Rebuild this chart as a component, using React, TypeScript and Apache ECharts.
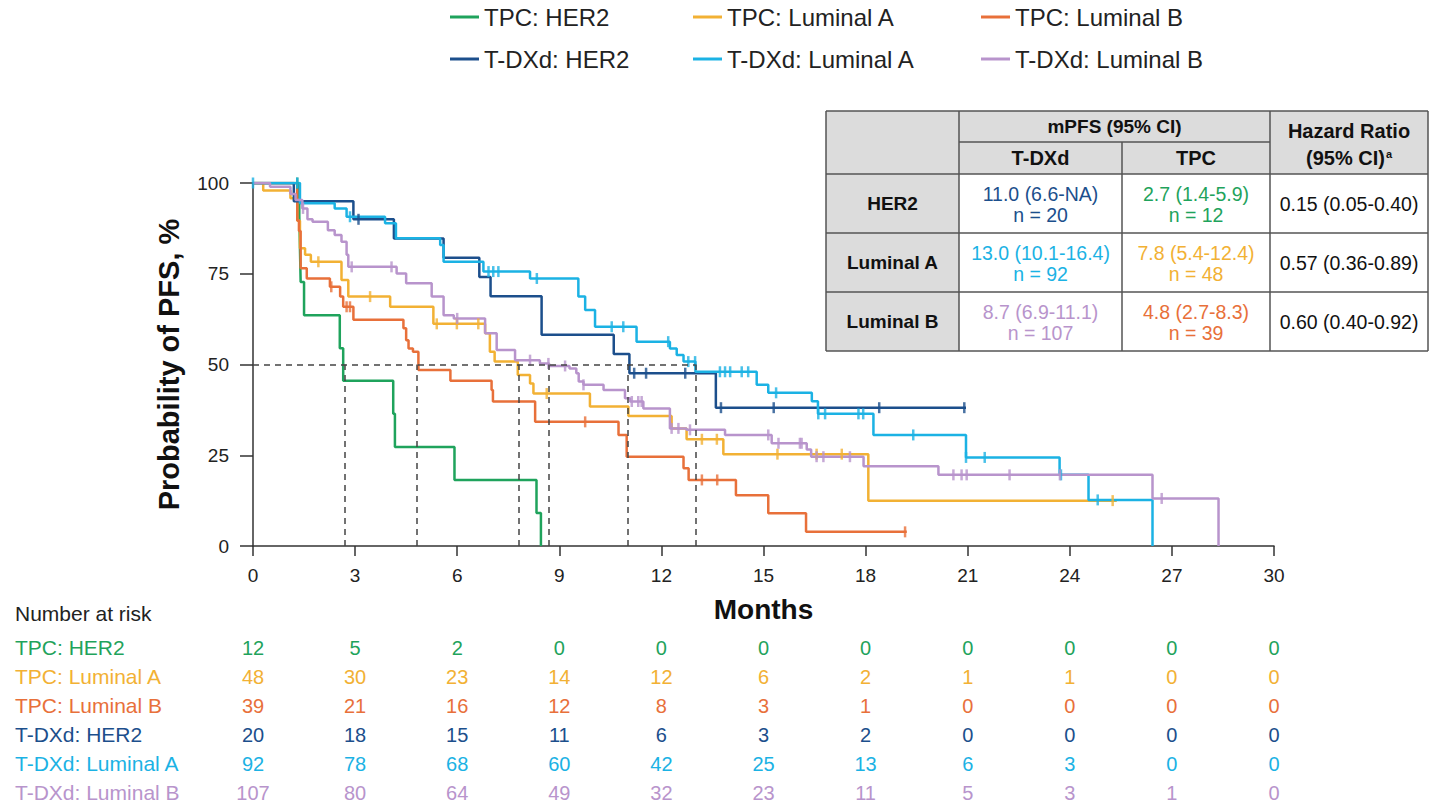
import React, { useEffect, useRef } from "react";
import * as echarts from "echarts";

const FONT = "'Liberation Sans', Arial, Helvetica, sans-serif";

const seriesNames = ["TPC: HER2", "TPC: Luminal A", "TPC: Luminal B", "T-DXd: HER2", "T-DXd: Luminal A", "T-DXd: Luminal B"];
const seriesColors = ["#1fa35c", "#f2b134", "#e8703a", "#1c4f8c", "#1bb2e4", "#b894cc"];

// Kaplan-Meier step points (months, % PFS) and censor times
const tpcHer2Times = [0, 1.36, 1.38, 1.4, 1.5, 2.55, 2.65, 4.12, 4.17, 5.92, 8.33, 8.46];
const tpcHer2Surv = [100, 90.9, 81.8, 72.7, 63.6, 54.5, 45.5, 36.4, 27.3, 18.2, 9.1, 0];
const tpcHer2Censor = [1.3];

const tpcLumATimes = [0, 0.3, 1.1, 1.3, 1.38, 1.53, 1.7, 2.6, 2.8, 4.03, 5.3, 6.82, 6.96, 7.1, 7.78, 8.14, 8.24, 9.9, 11.03, 12.3, 12.74, 13.82, 18.08, 25.38];
const tpcLumASurv = [100, 97.9, 95.8, 89.6, 82, 80.2, 78.3, 73.3, 68.7, 65.9, 61.2, 58.6, 53.5, 50.8, 47.1, 44.8, 42, 38.4, 35.8, 32.4, 29.4, 25.3, 12.5, 12.5];
const tpcLumACensor = [1.92, 3.44, 5.4, 5.99, 6.62, 8.63, 13.19, 13.63, 15.41, 16.56, 17.3, 25.26];

const tpcLumBTimes = [0, 1.3, 1.35, 1.4, 1.58, 2.26, 2.56, 2.65, 2.95, 4.42, 4.5, 4.57, 4.7, 4.86, 5.8, 7.01, 7.05, 8.29, 10.74, 10.98, 12.65, 12.8, 14.19, 15.14, 16.25, 19.21];
const tpcLumBSurv = [100, 89.7, 86.8, 76.5, 73.7, 71.4, 68.7, 65.9, 62.3, 60, 56.7, 54.4, 53.5, 48.5, 45.5, 43, 39.8, 34.2, 30.6, 24.6, 21.4, 18.2, 14, 9, 3.9, 3.9];
const tpcLumBCensor = [2.3, 2.75, 2.85, 9.76, 13.19, 13.64, 19.16];

const tdxdHer2Times = [0, 1.2, 2.95, 4.14, 5.6, 6.65, 6.98, 8.48, 10.6, 11.06, 13.6, 20.95];
const tdxdHer2Surv = [100, 95, 90, 84.7, 79.4, 74.1, 68.8, 58.2, 52.9, 47.6, 38.1, 38.1];
const tdxdHer2Censor = [3.1, 11.2, 11.55, 12.7, 13.75, 15.3, 18.4, 20.9];

const tdxdLumATimes = [0, 1.38, 2.4, 2.75, 3.88, 4.2, 5.5, 5.6, 6.77, 8.14, 9.56, 9.76, 10.05, 11.27, 12.25, 12.45, 12.65, 13.0, 14.8, 15.14, 16.42, 16.6, 18.23, 20.95, 23.7, 24.55, 26.43];
const tdxdLumASurv = [100, 94.4, 93, 90.7, 88.9, 84.8, 82.9, 78.3, 75.6, 73.7, 68.7, 65, 60.4, 56.3, 54.4, 52.6, 50.8, 48, 44.4, 42.2, 39.9, 36.4, 30.6, 24.4, 19.6, 12.7, 0];
const tdxdLumACensor = [0, 1.3, 2.85, 6.92, 7.06, 7.21, 8.34, 10.54, 10.88, 12.2, 12.79, 12.99, 13.72, 13.87, 14.02, 14.36, 14.55, 15.37, 16.61, 16.81, 17.79, 17.93, 19.4, 20.95, 21.5, 23.74, 24.82];

const tdxdLumBTimes = [0, 0.5, 1.1, 1.25, 1.45, 1.6, 1.75, 2.2, 2.4, 2.6, 2.75, 2.8, 4.22, 4.5, 5.25, 5.6, 5.9, 6.82, 7.16, 7.7, 8.43, 8.7, 9.3, 9.5, 9.57, 9.71, 10.3, 10.93, 11.08, 11.47, 12.25, 12.74, 13.87, 15.24, 16.27, 16.4, 17.94, 20.14, 26.43, 28.37];
const tdxdLumBSurv = [100, 99, 97, 95.3, 93, 90, 89.3, 87, 85.7, 83.8, 80.2, 76.9, 75.1, 72.4, 68.7, 63.6, 62.7, 58.6, 54, 51.2, 50.3, 49.6, 48.9, 47.6, 45.3, 44.4, 43, 40.7, 39.8, 37.9, 32.4, 32, 30.6, 28.3, 26.6, 24.6, 22, 19.6, 13.1, 0];
const tdxdLumBCensor = [1.47, 2.9, 4.07, 6.0, 8.14, 8.68, 9.17, 9.71, 11.13, 11.32, 11.42, 12.3, 12.5, 12.84, 15.14, 15.44, 16.07, 16.12, 16.56, 16.76, 17.54, 20.58, 20.82, 20.97, 22.23, 23.71, 26.7];

const medianTimes = [2.7, 4.8, 7.8, 8.7, 11.0, 13.0];
const medianLevel = 50;

// Number at risk
const riskTimes = [0, 3, 6, 9, 12, 15, 18, 21, 24, 27, 30];
const riskTpcHer2 = [12, 5, 2, 0, 0, 0, 0, 0, 0, 0, 0];
const riskTpcLumA = [48, 30, 23, 14, 12, 6, 2, 1, 1, 0, 0];
const riskTpcLumB = [39, 21, 16, 12, 8, 3, 1, 0, 0, 0, 0];
const riskTdxdHer2 = [20, 18, 15, 11, 6, 3, 2, 0, 0, 0, 0];
const riskTdxdLumA = [92, 78, 68, 60, 42, 25, 13, 6, 3, 0, 0];
const riskTdxdLumB = [107, 80, 64, 49, 32, 23, 11, 5, 3, 1, 0];

// Summary table
const tableRowLabels = ["HER2", "Luminal A", "Luminal B"];
const tdxdMpfs = ["11.0 (6.6-NA)", "13.0 (10.1-16.4)", "8.7 (6.9-11.1)"];
const tdxdN = [20, 92, 107];
const tpcMpfs = ["2.7 (1.4-5.9)", "7.8 (5.4-12.4)", "4.8 (2.7-8.3)"];
const tpcN = [12, 48, 39];
const hazardRatios = ["0.15 (0.05-0.40)", "0.57 (0.36-0.89)", "0.60 (0.40-0.92)"];

const curveTimes = [tpcHer2Times, tpcLumATimes, tpcLumBTimes, tdxdHer2Times, tdxdLumATimes, tdxdLumBTimes];
const curveSurv = [tpcHer2Surv, tpcLumASurv, tpcLumBSurv, tdxdHer2Surv, tdxdLumASurv, tdxdLumBSurv];
const curveCensor = [tpcHer2Censor, tpcLumACensor, tpcLumBCensor, tdxdHer2Censor, tdxdLumACensor, tdxdLumBCensor];
const riskCounts = [riskTpcHer2, riskTpcLumA, riskTpcLumB, riskTdxdHer2, riskTdxdLumA, riskTdxdLumB];

function survAt(times: number[], surv: number[], t: number) {
  let v = surv[0];
  for (let i = 0; i < times.length; i++) {
    if (times[i] <= t) v = surv[i];
  }
  return v;
}

function buildTable() {
  const X = [826, 959, 1122, 1270, 1428];
  const Y = [111, 142, 174, 233, 292, 351];
  const stroke = "#555";
  const els: any[] = [];
  els.push({ type: "rect", shape: { x: X[0], y: Y[0], width: X[4] - X[0], height: Y[2] - Y[0] }, style: { fill: "#dcdcdc" } });
  els.push({ type: "rect", shape: { x: X[0], y: Y[2], width: X[1] - X[0], height: Y[5] - Y[2] }, style: { fill: "#dcdcdc" } });
  els.push({ type: "rect", shape: { x: X[1], y: Y[2], width: X[4] - X[1], height: Y[5] - Y[2] }, style: { fill: "#ffffff" } });
  const line = (x1: number, y1: number, x2: number, y2: number) => ({
    type: "line",
    shape: { x1, y1, x2, y2 },
    style: { stroke, lineWidth: 1.5 },
  });
  els.push(line(X[0], Y[0], X[4], Y[0]));
  els.push(line(X[0], Y[5], X[4], Y[5]));
  els.push(line(X[0], Y[0], X[0], Y[5]));
  els.push(line(X[4], Y[0], X[4], Y[5]));
  els.push(line(X[1], Y[1], X[3], Y[1]));
  [Y[2], Y[3], Y[4]].forEach((y) => els.push(line(X[0], y, X[4], y)));
  els.push(line(X[1], Y[0], X[1], Y[5]));
  els.push(line(X[2], Y[1], X[2], Y[5]));
  els.push(line(X[3], Y[0], X[3], Y[5]));
  const txt = (x: number, y: number, text: string, fill: string, bold: boolean, size: number) => ({
    type: "text",
    x,
    y,
    style: {
      text,
      fill,
      font: `${bold ? "bold " : ""}${size}px ${FONT}`,
      textAlign: "center",
      textVerticalAlign: "middle",
      verticalAlign: "middle",
    },
  });
  els.push(txt((X[1] + X[3]) / 2, (Y[0] + Y[1]) / 2, "mPFS (95% CI)", "#111", true, 19));
  els.push(txt((X[1] + X[2]) / 2, (Y[1] + Y[2]) / 2, "T-DXd", "#111", true, 20));
  els.push(txt((X[2] + X[3]) / 2, (Y[1] + Y[2]) / 2, "TPC", "#111", true, 20));
  els.push(txt((X[3] + X[4]) / 2, 131, "Hazard Ratio", "#111", true, 20));
  els.push({
    type: "text",
    x: (X[3] + X[4]) / 2,
    y: 158,
    style: {
      text: "{m|(95% CI)}{s|a}",
      textAlign: "center",
      textVerticalAlign: "middle",
      verticalAlign: "middle",
      rich: {
        m: { font: `bold 20px ${FONT}`, fill: "#111", lineHeight: 22 },
        s: { font: `bold 11px ${FONT}`, fill: "#111", padding: [0, 0, 9, 1] },
      },
    },
  });
  const tdxdColors = [seriesColors[3], seriesColors[4], seriesColors[5]];
  const tpcColors = [seriesColors[0], seriesColors[1], seriesColors[2]];
  tableRowLabels.forEach((lab, i) => {
    const cy = (Y[2 + i] + Y[3 + i]) / 2;
    els.push(txt((X[0] + X[1]) / 2, cy, lab, "#111", true, 19));
    els.push(txt((X[1] + X[2]) / 2, cy - 9.5, tdxdMpfs[i], tdxdColors[i], false, 19.5));
    els.push(txt((X[1] + X[2]) / 2, cy + 11, `n = ${tdxdN[i]}`, tdxdColors[i], false, 19.5));
    els.push(txt((X[2] + X[3]) / 2, cy - 9.5, tpcMpfs[i], tpcColors[i], false, 19.5));
    els.push(txt((X[2] + X[3]) / 2, cy + 11, `n = ${tpcN[i]}`, tpcColors[i], false, 19.5));
    els.push(txt((X[3] + X[4]) / 2, cy, hazardRatios[i], "#111", false, 19.5));
  });
  els.push({
    type: "text",
    x: 15,
    y: 613,
    style: { text: "Number at risk", fill: "#222", font: `21px ${FONT}`, textAlign: "left", textVerticalAlign: "middle", verticalAlign: "middle" },
  });
  return els;
}

export default function App() {
  const ref = useRef<HTMLDivElement>(null);
  useEffect(() => {
    document.body.style.margin = "0";
    const chart = echarts.init(ref.current!, null, { renderer: "svg" });

    const lineSeries = seriesNames.map((name, i) => ({
      name,
      type: "line",
      step: "end",
      xAxisIndex: 0,
      yAxisIndex: 0,
      symbol: "none",
      color: seriesColors[i],
      lineStyle: { width: 2.5, color: seriesColors[i] },
      data: curveTimes[i].map((t, k) => [t, curveSurv[i][k]]),
      z: 3,
      ...(i === 0
        ? {
            markLine: {
              silent: true,
              symbol: ["none", "none"],
              label: { show: false },
              lineStyle: { color: "#444", type: [6, 5], width: 1.5 },
              data: [
                [{ coord: [0, medianLevel] }, { coord: [Math.max(...medianTimes), medianLevel] }],
                ...medianTimes.map((m) => [{ coord: [m, 0] }, { coord: [m, medianLevel] }]),
              ],
            },
          }
        : {}),
    }));

    const censorSeries = seriesNames.map((name, i) => ({
      name: name + " censored",
      type: "scatter",
      xAxisIndex: 0,
      yAxisIndex: 0,
      symbol: "rect",
      symbolSize: [2.5, 11],
      itemStyle: { color: seriesColors[i] },
      data: curveCensor[i].map((t) => [t, survAt(curveTimes[i], curveSurv[i], t)]),
      z: 4,
    }));

    const riskSeries = seriesNames.map((name, i) => ({
      name: name + " at risk",
      type: "scatter",
      xAxisIndex: 1,
      yAxisIndex: 1,
      symbol: "circle",
      symbolSize: 2,
      clip: false,
      itemStyle: { color: "rgba(255,255,255,0)" },
      label: {
        show: true,
        position: "inside",
        formatter: (p: any) => String(p.value[2]),
        color: seriesColors[i],
        fontSize: 20,
        fontFamily: FONT,
        opacity: 1,
      },
      data: riskTimes.map((t, k) => [t, i, riskCounts[i][k]]),
    }));

    const legendCommon = {
      orient: "vertical",
      top: 0,
      itemGap: 18,
      icon: "rect",
      itemWidth: 29,
      itemHeight: 3,
      selectedMode: false,
      textStyle: { fontSize: 24, color: "#222", fontFamily: FONT, lineHeight: 24 },
    };

    chart.setOption({
      animation: false,
      backgroundColor: "#ffffff",
      textStyle: { fontFamily: FONT },
      legend: [
        { ...legendCommon, left: 445, data: [seriesNames[0], seriesNames[3]] },
        { ...legendCommon, left: 688, data: [seriesNames[1], seriesNames[4]] },
        { ...legendCommon, left: 976, data: [seriesNames[2], seriesNames[5]] },
      ],
      grid: [
        { left: 253, top: 183, width: 1021, height: 363 },
        { left: 253, top: 633, width: 1021, height: 179 },
      ],
      xAxis: [
        {
          type: "value",
          gridIndex: 0,
          min: 0,
          max: 30,
          interval: 3,
          name: "Months",
          nameLocation: "middle",
          nameGap: 49,
          nameTextStyle: { fontSize: 28, fontWeight: "bold", color: "#111", fontFamily: FONT },
          axisLine: { show: true, lineStyle: { color: "#333", width: 1.5 } },
          axisTick: { show: true, length: 10, lineStyle: { color: "#333", width: 1.5 } },
          axisLabel: { fontSize: 19, color: "#222", margin: 20, fontFamily: FONT },
          splitLine: { show: false },
        },
        { type: "value", gridIndex: 1, min: 0, max: 30, show: false },
      ],
      yAxis: [
        {
          type: "value",
          gridIndex: 0,
          min: 0,
          max: 100,
          interval: 25,
          name: "Probability of PFS, %",
          nameLocation: "middle",
          nameGap: 70,
          nameTextStyle: { fontSize: 29, fontWeight: "bold", color: "#111", fontFamily: FONT },
          axisLine: { show: true, lineStyle: { color: "#333", width: 1.5 } },
          axisTick: { show: true, length: 13, lineStyle: { color: "#333", width: 1.5 } },
          axisLabel: { fontSize: 19, color: "#222", margin: 24, fontFamily: FONT },
          splitLine: { show: false },
        },
        {
          type: "category",
          gridIndex: 1,
          inverse: true,
          data: seriesNames,
          axisLine: { show: false },
          axisTick: { show: false },
          axisLabel: {
            align: "left",
            margin: 238,
            fontSize: 21,
            fontFamily: FONT,
            color: (_v: any, idx: number) => seriesColors[idx],
          },
          splitLine: { show: false },
        },
      ],
      graphic: buildTable(),
      series: [...lineSeries, ...censorSeries, ...riskSeries],
    });
    return () => chart.dispose();
  }, []);
  return <div ref={ref} style={{ width: 1429, height: 807 }} />;
}
